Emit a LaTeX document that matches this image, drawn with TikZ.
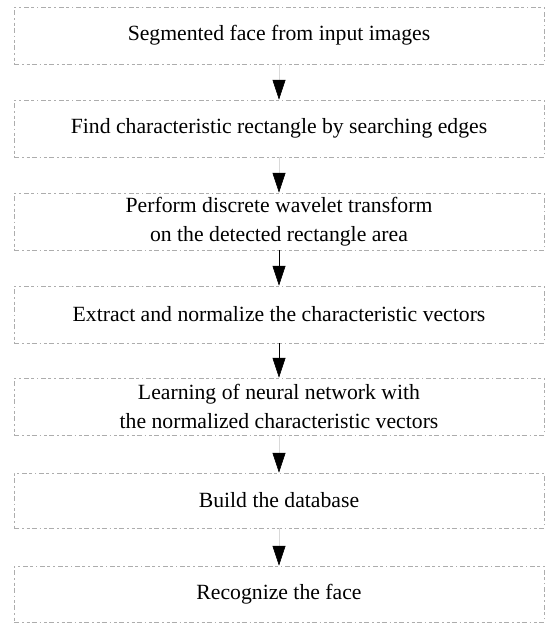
\documentclass[tikz,border=0pt]{standalone}
\usepackage{fontspec}
\setmainfont{Liberation Serif}
\usetikzlibrary{arrows.meta}
\begin{document}
\begin{tikzpicture}[x=1pt,y=-1pt,
  box/.style={draw=black!32, line width=0.5pt, dash pattern=on 5pt off 3pt on 1.5pt off 3pt on 3pt off 2pt,
    rectangle, minimum width=530pt, inner sep=0pt, align=center,
    font=\fontsize{21.7}{29}\selectfont},
  flow/.style={-{Triangle[width=13pt,length=20pt,color=black]}, line width=0.6pt},
  faintflow/.style={flow, draw=black!15}]
\useasboundingbox[fill=white] (0,0) rectangle (545,624);
\node[box, minimum height=57pt] (b1) at (279,35.5) {Segmented face from input images};
\node[box, minimum height=57pt] (b2) at (279,128.5) {Find characteristic rectangle by searching edges};
\node[box, minimum height=57pt] (b3) at (279,221.5) {Perform discrete wavelet transform\\on the detected rectangle area};
\node[box, minimum height=57pt] (b4) at (279,314.5) {Extract and normalize the characteristic vectors};
\node[box, minimum height=57pt] (b5) at (279,406.5) {Learning of neural network with\\the normalized characteristic vectors};
\node[box, minimum height=55pt] (b6) at (279,500.5) {Build the database};
\node[box, minimum height=56pt] (b7) at (279,594) {Recognize the face};
\draw[faintflow] (b1) -- (b2);
\draw[faintflow] (b2) -- (b3);
\draw[flow] (b3) -- (b4);
\draw[flow] (b4) -- (b5);
\draw[faintflow] (b5) -- (b6);
\draw[faintflow] (b6) -- (b7);
\end{tikzpicture}
\end{document}
